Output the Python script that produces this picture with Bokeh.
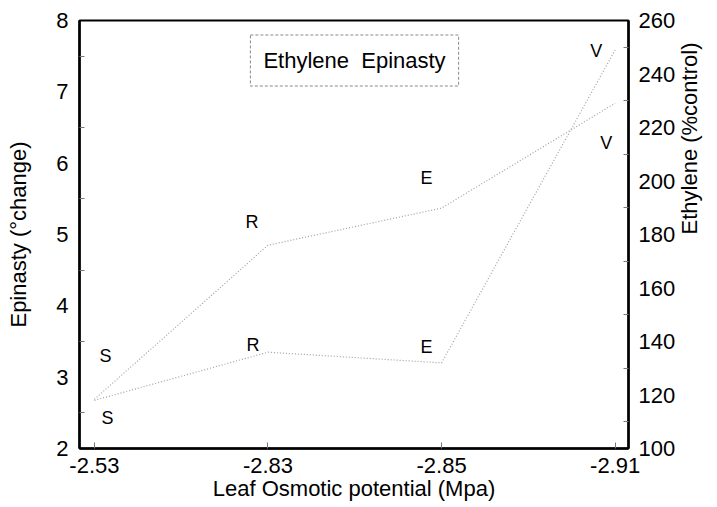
import math
from bokeh.plotting import figure
from bokeh.models import Range1d, LinearAxis, FixedTicker, Label, ColumnDataSource
from bokeh.core.properties import value
from bokeh.embed import file_html
from bokeh.resources import INLINE

# ---- data ----
osmotic_labels = ["-2.53", "-2.83", "-2.85", "-2.91"]
point_names = ["S", "R", "E", "V"]
epinasty = [2.69, 4.85, 5.37, 6.84]        # degrees change (left axis)
ethylene = [118, 136, 132, 249]            # % control (right axis)
left_ticks = [2, 3, 4, 5, 6, 7, 8]
right_ticks = [100, 120, 140, 160, 180, 200, 220, 240, 260]

FONT = "Liberation Sans"
xs = list(range(len(osmotic_labels)))

p = figure(width=717, height=507, output_backend="svg", toolbar_location=None,
           x_range=Range1d(-0.086, 3.077), y_range=Range1d(2, 8),
           min_border_left=79, min_border_right=87, min_border_top=20,
           min_border_bottom=59)
p.background_fill_color = "white"
p.border_fill_color = "white"
p.xgrid.visible = False
p.ygrid.visible = False
p.outline_line_color = "black"
p.outline_line_width = 2

p.extra_y_ranges = {"eth": Range1d(100, 260)}

# lines
line_kw = dict(line_color="#a0a0a0", line_width=1.2, line_dash="1 2")
p.line(xs, epinasty, **line_kw)
p.line(xs, ethylene, y_range_name="eth", **line_kw)

# point labels
src_e = ColumnDataSource(dict(x=xs, y=epinasty, t=point_names,
                              dx=[11, -16, -15, -9], dy=[-43, -23, -30, 40]))
src_t = ColumnDataSource(dict(x=xs, y=ethylene, t=point_names,
                              dx=[13, -15, -15, -19], dy=[18, -7, -16, 1]))
txt_kw = dict(text="t", x_offset="dx", y_offset="dy", text_font=value(FONT),
              text_font_size="18px", text_align="center", text_baseline="middle",
              text_color="black")
p.text(x="x", y="y", source=src_e, **txt_kw)
p.text(x="x", y="y", source=src_t, y_range_name="eth", **txt_kw)

# axes
def style_axis(ax):
    ax.axis_line_color = "black"
    ax.axis_line_width = 2.5
    ax.major_label_text_font = FONT
    ax.major_label_text_font_size = "22px"
    ax.major_label_text_color = "black"
    ax.axis_label_text_font = FONT
    ax.axis_label_text_font_size = "22px"
    ax.axis_label_text_font_style = "normal"
    ax.axis_label_text_color = "black"
    ax.major_tick_out = 0
    ax.minor_tick_out = 0
    ax.major_tick_line_color = "#777777"
    ax.minor_tick_line_color = "#777777"

xa = p.xaxis[0]
xa.ticker = FixedTicker(ticks=xs)
xa.major_label_overrides = {i: lab for i, lab in enumerate(osmotic_labels)}
style_axis(xa)
xa.major_tick_in = 6
xa.major_label_standoff = 9
xa.axis_label = "Leaf Osmotic potential (Mpa)"
xa.axis_label_standoff = 0

ya = p.yaxis[0]
ya.ticker = FixedTicker(ticks=left_ticks,
                        minor_ticks=[v + 0.5 for v in left_ticks[:-1]])
style_axis(ya)
ya.major_tick_in = 0
ya.minor_tick_in = 5
ya.major_label_standoff = 11
ya.axis_label = "Epinasty (°change)"
ya.axis_label_standoff = 22

ra = LinearAxis(y_range_name="eth",
                ticker=FixedTicker(ticks=right_ticks,
                                   minor_ticks=[v + 10 for v in right_ticks[:-1]]))
style_axis(ra)
ra.major_tick_in = 0
ra.minor_tick_in = 5
ra.major_label_standoff = 10
ra.axis_label = "Ethylene (%control)"
ra.axis_label_standoff = 11
if "axis_label_orientation" in ra.properties():
    ra.axis_label_orientation = math.pi / 2
p.add_layout(ra, "right")

# legend-like box
p.add_layout(Label(x=275, y=388, text="Ethylene\u00a0\u00a0Epinasty",
                   x_units="screen", y_units="screen", text_font=FONT,
                   text_font_size="22px", text_color="black", text_align="center",
                   text_baseline="middle",
                   border_line_color="#888888", border_line_dash="3 2",
                   border_line_width=1, background_fill_color="white",
                   padding=13))

open("out.html", "w").write(file_html(p, INLINE))
